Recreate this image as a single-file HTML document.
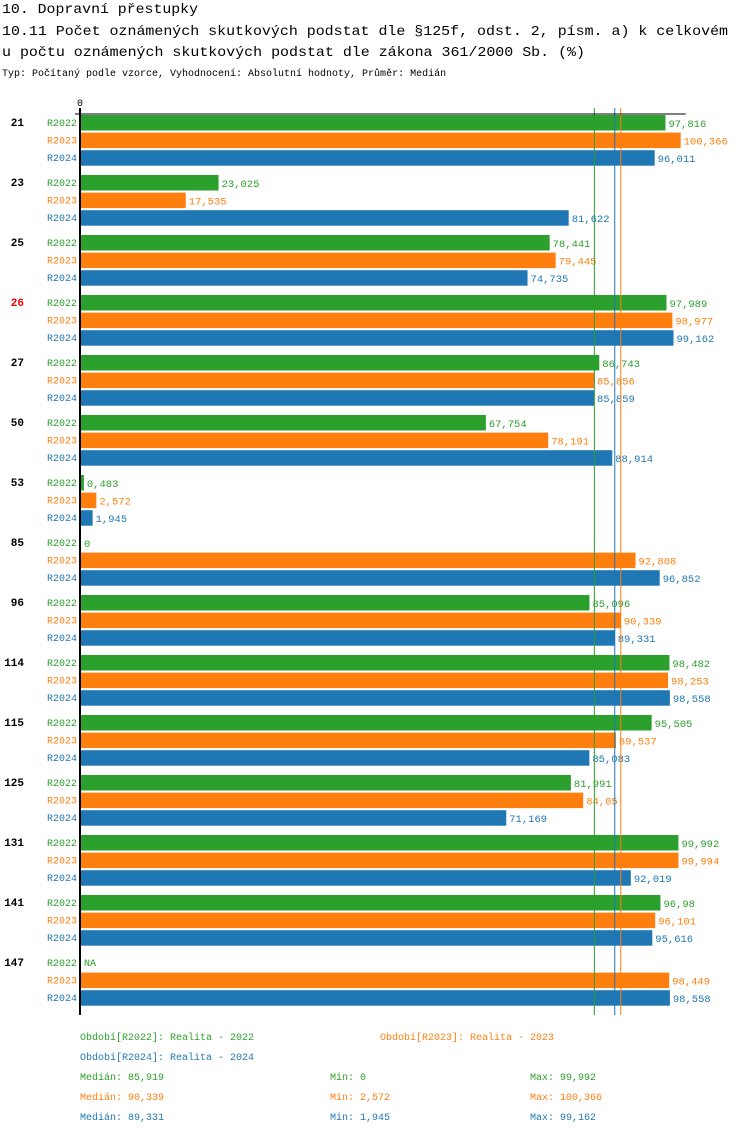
<!DOCTYPE html>
<html><head><meta charset="utf-8"><style>
body{margin:0;background:#fff;font-family:"Liberation Mono","DejaVu Sans Mono",monospace;}
svg text{font-family:"Liberation Mono","DejaVu Sans Mono",monospace;}
</style></head><body>
<svg id="c" width="750" height="1134" xmlns="http://www.w3.org/2000/svg">
<text x="2" y="13" font-size="14" textLength="196" lengthAdjust="spacingAndGlyphs">10. Dopravní přestupky</text>
<text x="2" y="35" font-size="14" textLength="726" lengthAdjust="spacingAndGlyphs">10.11 Počet oznámených skutkových podstat dle §125f, odst. 2, písm. a) k celkovém</text>
<text x="2" y="56" font-size="14" textLength="583" lengthAdjust="spacingAndGlyphs">u počtu oznámených skutkových podstat dle zákona 361/2000 Sb. (%)</text>
<text x="2" y="76" font-size="10">Typ: Počítaný podle vzorce, Vyhodnocení: Absolutní hodnoty, Průměr: Medián</text>
<g id="plot"></g>
</svg>
<script>
const categories=["21","23","25","26","27","50","53","85","96","114","115","125","131","141","147"];
const highlighted=["26"];
const seriesNames=["R2022","R2023","R2024"];
const r2022=[97.816,23.025,78.441,97.989,86.743,67.754,0.483,0,85.096,98.482,95.505,81.991,99.992,96.98,null];
const r2023=[100.366,17.535,79.445,98.977,85.856,78.191,2.572,92.808,90.339,98.253,89.537,84.05,99.994,96.101,98.449];
const r2024=[96.011,81.622,74.735,99.162,85.859,88.914,1.945,96.852,89.331,98.558,85.083,71.169,92.019,95.616,98.558];
const medians=[85.919,90.339,89.331];
const mins=["0","2,572","1,945"];
const maxs=["99,992","100,366","99,162"];
const colors=["#2ca02c","#ff7f0e","#1f77b4"];
const NS="http://www.w3.org/2000/svg";
const g=document.getElementById('plot');
const x0=81,sc=5.975,top0=115,gp=60,rp=17.6;
const xs=v=>x0+v*sc;
function el(t,a,txt){const e=document.createElementNS(NS,t);for(const k in a)e.setAttribute(k,a[k]);if(txt!=null)e.textContent=txt;g.appendChild(e);return e;}
const fmt=v=>String(v).replace('.',',');
const series=[r2022,r2023,r2024];
categories.forEach((c,i)=>{
  const gy=top0+i*gp;
  const t=el('text',{x:24,y:gy+11,'font-size':11,'font-weight':'bold','text-anchor':'end',fill:highlighted.includes(c)?'#e00':'#000','font-family':'"Liberation Sans",sans-serif'},c);
  
  
  series.forEach((s,j)=>{
    const y=gy+j*rp;
    const l=el('text',{x:77,y:y+11,'font-size':10,'text-anchor':'end',fill:colors[j]},seriesNames[j]);
    
    
    const v=s[i];
    if(v==null){
      const n=el('text',{x:x0+3,y:y+11,'font-size':10,fill:colors[j]},'NA');
      
      
      return;
    }
    const w=v*sc;
    if(w>0){
      const r=el('rect',{x:x0,y:y,width:w,height:15.5,fill:colors[j]});
      
      
    }
    const vl=el('text',{x:xs(v)+3,y:y+12,'font-size':10.5,fill:colors[j]},fmt(v));
    
    
  });
});
const bottom=1015;
medians.forEach((m,j)=>{
  const ln=el('line',{x1:xs(m),x2:xs(m),y1:108,y2:bottom,stroke:colors[j],'stroke-width':1});
  
  
});
const ax=el('line',{x1:80,x2:80,y1:108,y2:bottom,stroke:'#000','stroke-width':2});


const xa=el('line',{x1:75,x2:xs(100.366)+5,y1:114,y2:114,stroke:'#000','stroke-width':1});


const z=el('text',{x:80,y:106,'font-size':10,'text-anchor':'middle'},'0');


const legTexts=["Období[R2022]: Realita - 2022","Období[R2023]: Realita - 2023","Období[R2024]: Realita - 2024"];
[[80,1040],[380,1040],[80,1060]].forEach((p,j)=>{
  const t=el('text',{x:p[0],y:p[1],'font-size':10,fill:colors[j]},legTexts[j]);
  
  
});
medians.forEach((m,j)=>{
  const y=1080+j*20;
  const a=el('text',{x:80,y:y,'font-size':10,fill:colors[j]},'Medián: '+fmt(m));
  
  
  const b=el('text',{x:330,y:y,'font-size':10,fill:colors[j]},'Min: '+mins[j]);
  
  
  const d=el('text',{x:530,y:y,'font-size':10,fill:colors[j]},'Max: '+maxs[j]);
  
  
});
</script>
</body></html>
